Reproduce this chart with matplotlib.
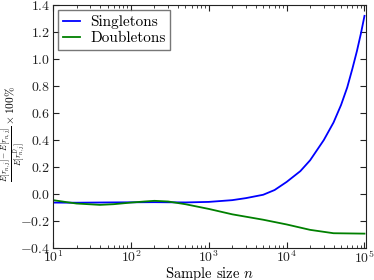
import numpy as np
import matplotlib
matplotlib.use('Agg')
import matplotlib.pyplot as plt
from matplotlib.ticker import LogLocator, MultipleLocator

# --- datos ---
n_single = [10, 20, 50, 100, 200, 500, 1000, 2000, 3000, 5000, 7000,
            10000, 15000, 20000, 30000, 40000, 50000, 60000, 70000, 80000,
            90000, 100000]
v_single = [-0.063, -0.064, -0.062, -0.061, -0.060, -0.062, -0.058, -0.045,
            -0.030, -0.005, 0.03, 0.09, 0.17, 0.25, 0.40, 0.53, 0.66, 0.79,
            0.93, 1.06, 1.19, 1.32]

n_double = [10, 15, 20, 40, 60, 100, 150, 200, 300, 500, 1000, 2000,
            5000, 10000, 20000, 40000, 100000]
v_double = [-0.045, -0.06, -0.07, -0.08, -0.075, -0.063, -0.055, -0.05,
            -0.055, -0.075, -0.11, -0.15, -0.19, -0.225, -0.265, -0.29, -0.293]

plt.rcParams['font.family'] = 'serif'
plt.rcParams['font.serif'] = ['cmr10']
plt.rcParams['mathtext.fontset'] = 'cm'
plt.rcParams['axes.formatter.use_mathtext'] = True

fig = plt.figure(figsize=(3.74, 2.8), dpi=100)
ax = fig.add_axes([0.142, 0.114, 0.837, 0.868])

ax.plot(n_single, v_single, color='#0000ff', lw=1.3, label='Singletons')
ax.plot(n_double, v_double, color='#008000', lw=1.3, label='Doubletons')

ax.set_xscale('log')
ax.set_xlim(10, 1.05e5)
ax.set_ylim(-0.4, 1.4)
ax.yaxis.set_major_locator(MultipleLocator(0.2))
ax.yaxis.set_major_formatter(plt.FuncFormatter(lambda v, p: '$%.1f$' % v))
ax.xaxis.set_minor_locator(LogLocator(base=10, subs=np.arange(2, 10)))

ax.tick_params(which='both', direction='in', top=True, right=True,
               labelsize=10, colors='#222222')
ax.tick_params(which='major', length=4, pad=2)
ax.tick_params(axis='x', which='major', pad=1)
ax.tick_params(which='minor', length=2)
for s in ax.spines.values():
    s.set_color('#222222')

ax.set_xlabel('Sample size $n$', fontsize=10.5)
ax.xaxis.set_label_coords(0.5, -0.07)
ax.set_ylabel(r'$\frac{E[r_{n,j}]-\hat{E}[r_{n,j}]}{E[r^{D}_{n,j}]}\times 100\%$',
              fontsize=8.2)
ax.yaxis.set_label_coords(-0.082, 0.47)

leg = ax.legend(loc='upper left', fontsize=11, fancybox=False,
                handlelength=1.1, handletextpad=0.7, borderpad=0.3,
                labelspacing=0.15, borderaxespad=0.35)
leg.get_frame().set_edgecolor('#555555')

fig.savefig('out.png', dpi=100)
